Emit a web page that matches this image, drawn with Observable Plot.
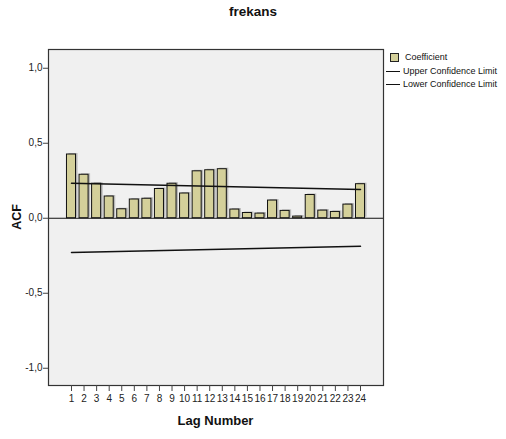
<!DOCTYPE html>
<html>
<head>
<meta charset="utf-8">
<script src="https://cdn.jsdelivr.net/npm/d3@7"></script>
<script src="https://cdn.jsdelivr.net/npm/@observablehq/plot@0.6"></script>
<style>
  body { margin: 0; background: #fff; font-family: "Liberation Sans", Arial, sans-serif; }
  #wrap { position: relative; width: 506px; height: 439px; overflow: hidden; }
  #wrap svg { position: absolute; left: 0; top: 0; }
  .title { position: absolute; left: 0; width: 506px; top: 4px; text-align: center; font-weight: bold; font-size: 13.5px; color: #111; }
  .xlabel { position: absolute; left: 48px; width: 335px; top: 413px; text-align: center; font-weight: bold; font-size: 13px; color: #111; }
  .ylabel { position: absolute; left: 17px; top: 217px; transform: translate(-50%, -50%) rotate(-90deg); font-weight: bold; font-size: 12.5px; color: #111; white-space: nowrap; }
  .legend { position: absolute; left: 386px; top: 51px; font-size: 9px; color: #111; line-height: 13.5px; }
  .legend .row { display: flex; align-items: center; height: 13.5px; }
  .legend .sw { width: 7px; height: 7px; background: #d4d09a; border: 1px solid #222; margin: 0 6px 0 4px; }
  .legend .ln { width: 14px; height: 0; border-top: 1.5px solid #111; margin-right: 3px; }
</style>
</head>
<body>
<div id="wrap">
  <div class="title">frekans</div>
  <div class="xlabel">Lag Number</div>
  <div class="ylabel">ACF</div>
  <div class="legend">
    <div class="row"><span class="sw"></span>Coefficient</div>
    <div class="row"><span class="ln"></span>Upper Confidence Limit</div>
    <div class="row"><span class="ln"></span>Lower Confidence Limit</div>
  </div>
</div>
<script>
const lags = [1,2,3,4,5,6,7,8,9,10,11,12,13,14,15,16,17,18,19,20,21,22,23,24];
const acf = [0.425,0.29,0.23,0.145,0.06,0.125,0.13,0.195,0.23,0.165,0.313,0.32,0.327,0.058,0.035,0.031,0.118,0.049,0.011,0.155,0.051,0.042,0.091,0.227];
const confLags = [1, 24];
const upperLimit = [0.233, 0.192];
const lowerLimit = [-0.229, -0.187];
const yTicks = [-1, -0.5, 0, 0.5, 1];

const bars = lags.map((lag, i) => ({lag, acf: acf[i]}));
const upper = confLags.map((lag, i) => ({lag, v: upperLimit[i]}));
const lower = confLags.map((lag, i) => ({lag, v: lowerLimit[i]}));
const half = 0.36;

const chart = Plot.plot({
  width: 506,
  height: 439,
  marginLeft: 48,
  marginRight: 123,
  marginTop: 49,
  marginBottom: 54,
  style: {fontFamily: "'Liberation Sans', Arial, sans-serif", fontSize: "10px", background: "transparent", color: "#222"},
  x: {type: "linear", domain: [-0.83, 25.83]},
  y: {domain: [-1.115, 1.125]},
  marks: [
    Plot.frame({fill: "#f0f0f0", stroke: "none"}),
    Plot.rectY(bars, {x1: d => d.lag - half, x2: d => d.lag + half, y: "acf", fill: "#8c8c8c", fillOpacity: 0.55, dx: 2, dy: -1}),
    Plot.rectY(bars, {x1: d => d.lag - half, x2: d => d.lag + half, y: "acf", fill: "#d4d09a", stroke: "#111", strokeWidth: 1}),
    Plot.ruleY([0], {stroke: "#111", strokeWidth: 1.2}),
    Plot.line(upper, {x: "lag", y: "v", stroke: "#111", strokeWidth: 1.5}),
    Plot.line(lower, {x: "lag", y: "v", stroke: "#111", strokeWidth: 1.5}),
    Plot.frame({stroke: "#333", strokeWidth: 1.2}),
    Plot.axisX({ticks: lags, tickFormat: d => String(d), tickSize: 6, tickPadding: 3, label: null, stroke: "#444"}),
    Plot.axisY({ticks: yTicks, tickFormat: d => d.toFixed(1).replace(".", ","), tickSize: 5, tickPadding: 1, label: null, stroke: "#444"})
  ]
});
document.getElementById("wrap").prepend(chart);
</script>
</body>
</html>
